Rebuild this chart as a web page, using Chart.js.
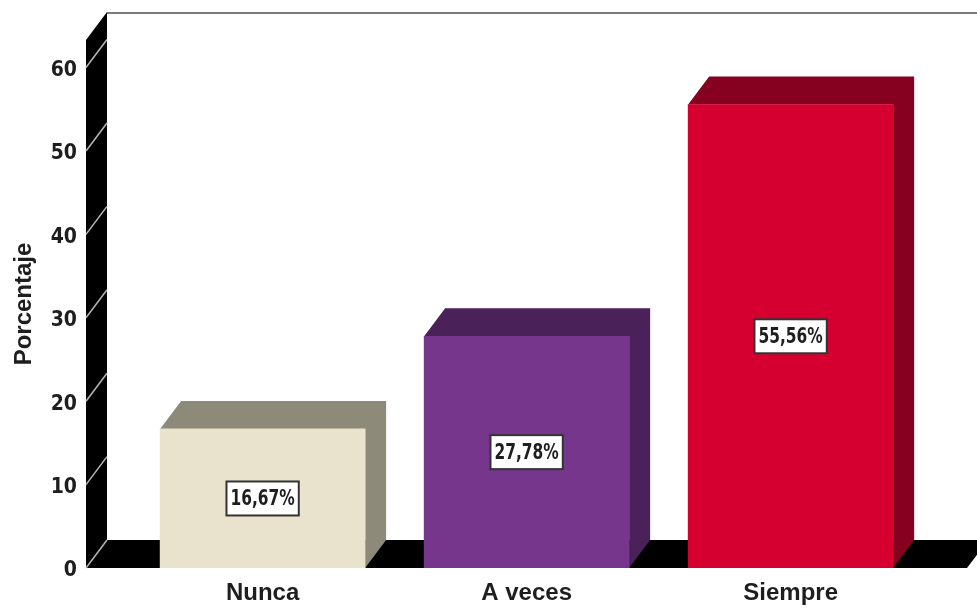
<!DOCTYPE html>
<html>
<head>
<meta charset="utf-8">
<script src="https://cdn.jsdelivr.net/npm/chart.js@4/dist/chart.umd.min.js"></script>
<style>
  html, body { margin: 0; padding: 0; background: #ffffff; }
  #wrap { width: 977px; height: 609px; position: relative; }
</style>
</head>
<body>
<div id="wrap"><canvas id="c" width="977" height="609"></canvas></div>
<script>
// ---- data ----
const categories = ['Nunca', 'A veces', 'Siempre'];
const percentages = [16.67, 27.78, 55.56];
const yTicks = [0, 10, 20, 30, 40, 50, 60];

// ---- styles ----
const frontColors = ['#E9E3CE', '#76368B', '#D50030'];
const sideColors  = ['#8D8A7A', '#4B2159', '#86001F'];
const DEPTH_X = 21, DEPTH_Y = -28;
const NARROW = "'Liberation Sans Narrow', 'Arial Narrow', 'DejaVu Sans Condensed', sans-serif";
const WIDE = "'Liberation Sans', Arial, sans-serif";

const threeD = {
  id: 'threeD',
  beforeDatasetsDraw(chart) {
    const ctx = chart.ctx;
    const a = chart.chartArea;
    const y = chart.scales.y;
    ctx.save();
    // left wall
    ctx.fillStyle = '#000';
    ctx.beginPath();
    ctx.moveTo(a.left, a.top);
    ctx.lineTo(a.left + DEPTH_X, a.top + DEPTH_Y);
    ctx.lineTo(a.left + DEPTH_X, a.bottom + DEPTH_Y);
    ctx.lineTo(a.left, a.bottom);
    ctx.closePath();
    ctx.fill();
    // floor
    ctx.beginPath();
    ctx.moveTo(a.left, a.bottom);
    ctx.lineTo(a.left + DEPTH_X, a.bottom + DEPTH_Y);
    ctx.lineTo(a.right + DEPTH_X, a.bottom + DEPTH_Y);
    ctx.lineTo(a.right, a.bottom);
    ctx.closePath();
    ctx.fill();
    // top frame line of back plane
    ctx.strokeStyle = '#7a7a7a';
    ctx.lineWidth = 2;
    ctx.beginPath();
    ctx.moveTo(a.left + DEPTH_X, a.top + DEPTH_Y + 1);
    ctx.lineTo(chart.width, a.top + DEPTH_Y + 1);
    ctx.stroke();
    // tick slants on the wall
    ctx.strokeStyle = '#b4b4b4';
    ctx.lineWidth = 1.5;
    yTicks.forEach(v => {
      const py = y.getPixelForValue(v);
      ctx.beginPath();
      ctx.moveTo(a.left, py);
      ctx.lineTo(a.left + DEPTH_X, py + DEPTH_Y);
      ctx.stroke();
    });
    // bar top and side faces
    const meta = chart.getDatasetMeta(0);
    meta.data.forEach((bar, i) => {
      const p = bar.getProps(['x', 'y', 'base', 'width'], true);
      const L = p.x - p.width / 2, R = p.x + p.width / 2, T = p.y, B = p.base;
      ctx.fillStyle = sideColors[i];
      ctx.beginPath();
      ctx.moveTo(L, T);
      ctx.lineTo(L + DEPTH_X, T + DEPTH_Y);
      ctx.lineTo(R + DEPTH_X, T + DEPTH_Y);
      ctx.lineTo(R + DEPTH_X, B + DEPTH_Y);
      ctx.lineTo(R, B);
      ctx.lineTo(R, T);
      ctx.closePath();
      ctx.fill();
    });
    ctx.restore();
  },
  afterDatasetsDraw(chart) {
    const ctx = chart.ctx;
    const meta = chart.getDatasetMeta(0);
    const SX = 0.78;
    ctx.save();
    ctx.font = "bold 22px " + NARROW;
    ctx.textAlign = 'center';
    ctx.textBaseline = 'middle';
    meta.data.forEach((bar, i) => {
      const p = bar.getProps(['x', 'y', 'base'], true);
      const cy = (p.y + p.base) / 2;
      const txt = percentages[i].toFixed(2).replace('.', ',') + '%';
      const w = ctx.measureText(txt).width * SX + 8;
      const h = 34;
      ctx.fillStyle = '#ffffff';
      ctx.fillRect(p.x - w / 2, cy - h / 2, w, h);
      ctx.strokeStyle = '#333333';
      ctx.lineWidth = 2;
      ctx.strokeRect(p.x - w / 2, cy - h / 2, w, h);
      ctx.fillStyle = '#1e1e1e';
      ctx.save();
      ctx.translate(p.x, cy + 1);
      ctx.scale(SX, 1);
      ctx.fillText(txt, 0, 0);
      ctx.restore();
    });
    ctx.restore();
  }
};

new Chart(document.getElementById('c'), {
  type: 'bar',
  data: {
    datasets: [{
      data: categories.map((c, i) => ({ x: i, y: percentages[i] })),
      backgroundColor: frontColors,
      borderWidth: 0,
      barThickness: 205
    }]
  },
  options: {
    responsive: false,
    animation: false,
    events: [],
    layout: { padding: { top: 40, right: 10, bottom: 0, left: 0 } },
    plugins: { legend: { display: false }, tooltip: { enabled: false } },
    scales: {
      x: {
        type: 'linear',
        offset: false,
        min: -0.669,
        max: 2.668,
        grid: { display: false, drawTicks: false, offset: false },
        border: { display: false },
        afterBuildTicks(s) { s.ticks = categories.map((c, i) => ({ value: i })); },
        afterFit(s) { s.height = 41; },
        ticks: {
          autoSkip: false,
          maxRotation: 0,
          padding: 11,
          color: '#1e1e1e',
          font: { family: WIDE, size: 24, weight: 'bold' },
          callback: (v) => categories[v]
        }
      },
      y: {
        min: 0,
        max: 63.3,
        grid: { display: false, drawTicks: false },
        border: { display: false },
        afterBuildTicks(s) { s.ticks = yTicks.map(v => ({ value: v })); },
        afterFit(s) { s.width = 86; },
        ticks: {
          padding: 9,
          labelOffset: 3,
          color: '#1e1e1e',
          font: { family: NARROW, size: 21, weight: 'bold' }
        },
        title: {
          display: true,
          text: 'Porcentaje',
          color: '#1e1e1e',
          padding: { top: 10, bottom: 0 },
          font: { family: WIDE, size: 24, weight: 'bold' }
        }
      }
    }
  },
  plugins: [threeD]
});
</script>
</body>
</html>
